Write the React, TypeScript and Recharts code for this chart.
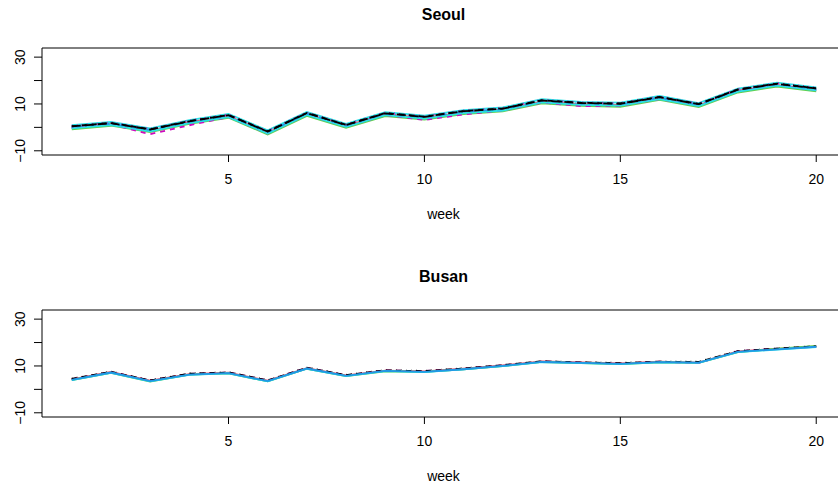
import { LineChart, Line, XAxis, YAxis, ReferenceArea } from 'recharts';

const weeks = [1, 2, 3, 4, 5, 6, 7, 8, 9, 10, 11, 12, 13, 14, 15, 16, 17, 18, 19, 20];
const xTicks = [5, 10, 15, 20];
const yTicks = [-10, 0, 10, 20, 30];
const yLabels = [-10, 10, 30];

// Seoul districts
const seoulA = [0.9, 2.3, -0.4, 3.1, 5.7, -1.3, 6.6, 1.5, 6.5, 5.0, 7.4, 8.5, 12.0, 10.9, 10.6, 13.4, 10.4, 16.6, 19.1, 17.1];
const seoulB = [0.0, 1.4, -1.4, 2.2, 4.8, -2.3, 5.7, 0.6, 5.6, 4.0, 6.4, 7.6, 11.0, 9.9, 9.6, 12.5, 9.4, 15.7, 18.1, 16.1];
const seoulC = [-0.8, 0.7, -2.0, 1.5, 4.1, -3.0, 4.9, -0.2, 4.8, 3.3, 5.7, 6.8, 10.3, 9.2, 8.8, 11.7, 8.7, 14.9, 17.4, 15.4];
const seoulD = [-0.2, 1.2, -1.6, 2.0, 4.6, -2.4, 5.5, 0.4, 5.4, 3.9, 6.3, 7.4, 10.9, 9.8, 9.5, 12.3, 9.3, 15.5, 18.0, 15.9];
const seoulE = [0.7, 2.1, -0.6, 2.9, 5.5, -1.5, 6.4, 1.3, 6.3, 4.8, 7.2, 8.3, 11.8, 10.7, 10.4, 13.2, 10.2, 16.4, 18.9, 16.9];
const seoulF = [-0.2, 1.3, -2.9, 0.9, 4.4, -2.6, 5.4, 0.3, 5.3, 3.2, 5.5, 7.2, 10.6, 9.1, 9.2, 12.1, 9.2, 15.4, 18.0, 15.8];
const seoulG = [-0.4, 1.0, -1.7, 1.8, 4.4, -2.6, 5.3, 0.2, 5.2, 3.7, 6.1, 7.2, 10.7, 9.6, 9.3, 12.1, 9.1, 15.3, 17.8, 15.8];
const seoulH = [0.2, 1.6, -1.1, 2.4, 5.0, -2.0, 5.9, 0.8, 5.8, 4.3, 6.7, 7.8, 11.3, 10.2, 9.9, 12.7, 9.7, 15.9, 18.4, 16.4];
const seoulI = [0.5, 1.9, -0.8, 2.7, 5.3, -1.7, 6.2, 1.1, 6.1, 4.6, 7.0, 8.1, 11.6, 10.5, 10.2, 13.0, 10.0, 16.2, 18.7, 16.7];
const seoulJ = [0.4, 1.8, -0.9, 2.6, 5.2, -1.8, 6.1, 1.0, 6.0, 4.5, 6.9, 8.0, 11.5, 10.4, 10.1, 12.9, 9.9, 16.1, 18.6, 16.6];

// Busan districts
const busanA = [4.6, 7.6, 3.9, 6.8, 7.3, 3.9, 9.3, 6.2, 8.2, 7.9, 9.0, 10.4, 12.0, 11.6, 11.3, 11.9, 11.8, 16.4, 17.5, 18.5];
const busanB = [4.3, 7.5, 3.7, 6.5, 7.1, 3.7, 9.1, 6.0, 8.0, 7.7, 8.8, 10.2, 11.9, 11.5, 11.1, 11.8, 11.4, 16.2, 17.3, 18.4];
const busanC = [4.0, 7.0, 3.3, 6.3, 6.8, 3.4, 8.8, 5.7, 7.7, 7.5, 8.5, 9.9, 11.7, 11.2, 10.8, 11.5, 11.3, 15.9, 17.4, 18.6];
const busanD = [4.4, 7.4, 3.8, 6.6, 7.2, 3.8, 9.2, 6.0, 8.1, 7.8, 8.8, 10.3, 11.9, 11.4, 11.0, 11.8, 11.2, 16.3, 17.4, 18.2];
const busanE = [4.5, 7.5, 3.8, 6.7, 7.2, 3.8, 9.2, 6.1, 8.1, 7.8, 8.9, 10.3, 12.0, 11.5, 11.2, 11.8, 11.7, 16.3, 17.4, 18.4];
const busanF = [3.9, 7.1, 3.4, 6.2, 6.8, 3.4, 8.8, 5.7, 7.8, 7.4, 8.5, 9.9, 11.6, 11.2, 10.8, 11.5, 11.3, 15.9, 17.0, 18.1];
const busanG = [4.1, 7.2, 3.5, 6.3, 6.9, 3.5, 8.9, 5.8, 7.9, 7.5, 8.6, 10.0, 11.7, 11.3, 10.9, 11.6, 11.4, 16.0, 17.1, 18.2];

const seoulLines = [seoulA, seoulB, seoulC, seoulD, seoulE, seoulF, seoulG, seoulH, seoulI, seoulJ];
const busanLines = [busanA, busanB, busanC, busanD, busanE, busanF, busanG];

const BLACK = '#000000';
const RED = '#DF536B';
const GREEN = '#61D04F';
const BLUE = '#2297E6';
const CYAN = '#28E2E5';
const MAGENTA = '#CD0BBC';

const SOLID = undefined;
const DASHED = '5 5';
const DOTTED = '1 4';
const DOTDASH = '1 4 5 4';
const LONGDASH = '9 4';

const seoulStyles = [
  { color: CYAN, dash: SOLID },
  { color: RED, dash: SOLID },
  { color: GREEN, dash: SOLID },
  { color: BLUE, dash: DASHED },
  { color: MAGENTA, dash: DOTTED },
  { color: MAGENTA, dash: DASHED },
  { color: CYAN, dash: SOLID },
  { color: BLUE, dash: DOTDASH },
  { color: BLACK, dash: DASHED },
  { color: BLACK, dash: LONGDASH },
];

const busanStyles = [
  { color: BLACK, dash: DOTTED },
  { color: RED, dash: SOLID },
  { color: GREEN, dash: SOLID },
  { color: MAGENTA, dash: DASHED },
  { color: BLACK, dash: DASHED },
  { color: CYAN, dash: SOLID },
  { color: BLUE, dash: SOLID },
];

const FONT = '"Liberation Sans", Arial, Helvetica, sans-serif';
const X_DOMAIN: [number, number] = [0.24, 20.76];
const Y_DOMAIN: [number, number] = [-11.8, 33.9];

function buildRows(lines: number[][]) {
  return weeks.map((w, i) => {
    const row: Record<string, number> = { week: w };
    lines.forEach((vals, k) => {
      row['s' + k] = vals[i];
    });
    return row;
  });
}

function YTick({ y, payload }: any) {
  if (!yLabels.includes(payload.value)) return <g />;
  const label = payload.value < 0 ? '\u2212' + Math.abs(payload.value) : String(payload.value);
  return (
    <text
      x={25}
      y={y}
      transform={`rotate(-90, 25, ${y})`}
      textAnchor="middle"
      fontSize={14}
      fontFamily={FONT}
      fill="#000"
    >
      {label}
    </text>
  );
}

function Panel({
  title,
  lines,
  styles,
  top,
}: {
  title: string;
  lines: number[][];
  styles: { color: string; dash: string | undefined }[];
  top: number;
}) {
  const rows = buildRows(lines);
  return (
    <div style={{ position: 'absolute', left: 0, top, width: 838, height: 243, overflow: 'hidden' }}>
      <div
        style={{
          position: 'absolute',
          left: 0,
          top: 7,
          width: 887,
          textAlign: 'center',
          fontFamily: FONT,
          fontWeight: 'bold',
          fontSize: 16,
          lineHeight: '16px',
        }}
      >
        {title}
      </div>
      <div
        style={{
          position: 'absolute',
          left: 0,
          top: 207,
          width: 887,
          textAlign: 'center',
          fontFamily: FONT,
          fontSize: 14,
          lineHeight: '14px',
        }}
      >
        week
      </div>
      <LineChart width={846} height={243} data={rows} margin={{ top: 48, right: 0, bottom: 58, left: 0 }}>
        <ReferenceArea
          x1={X_DOMAIN[0]}
          x2={X_DOMAIN[1]}
          y1={Y_DOMAIN[0]}
          y2={Y_DOMAIN[1]}
          fill="none"
          fillOpacity={0}
          stroke="#000"
          strokeWidth={1}
          ifOverflow="visible"
        />
        <XAxis
          dataKey="week"
          type="number"
          domain={X_DOMAIN}
          ticks={xTicks}
          allowDataOverflow
          height={30}
          axisLine={false}
          tickLine={{ stroke: '#000' }}
          tickSize={7}
          tickMargin={12}
          tick={{ fontSize: 14, fill: '#000', fontFamily: FONT }}
          interval={0}
        />
        <YAxis
          type="number"
          domain={Y_DOMAIN}
          ticks={yTicks}
          allowDataOverflow
          width={42}
          axisLine={false}
          tickLine={{ stroke: '#000' }}
          tickSize={8}
          tick={<YTick />}
          interval={0}
        />
        {styles.map((s, k) => (
          <Line
            key={k}
            dataKey={'s' + k}
            type="linear"
            stroke={s.color}
            strokeWidth={1.8}
            strokeDasharray={s.dash}
            dot={false}
            activeDot={false}
            isAnimationActive={false}
          />
        ))}
      </LineChart>
    </div>
  );
}

export default function App() {
  return (
    <div style={{ position: 'absolute', left: 0, top: 0, width: 838, height: 487, background: '#fff' }}>
      <Panel title="Seoul" lines={seoulLines} styles={seoulStyles} top={0} />
      <Panel title="Busan" lines={busanLines} styles={busanStyles} top={262} />
    </div>
  );
}
